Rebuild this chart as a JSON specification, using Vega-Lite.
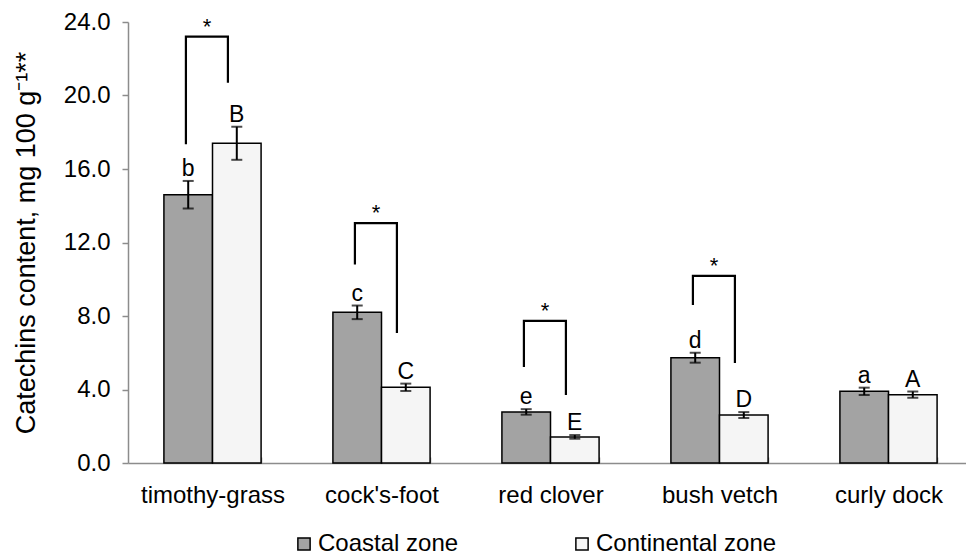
{
  "$schema": "https://vega.github.io/schema/vega-lite/v6.json",
  "autosize": "none",
  "width": 838,
  "height": 441,
  "padding": {"left": 128, "top": 22, "right": 0, "bottom": 95},
  "background": "white",
  "config": {
    "font": "Liberation Sans",
    "view": {"stroke": null}
  },
  "datasets": {
    "bars": [
      {"cat": "timothy-grass", "zone": "Coastal zone", "value": 14.6, "lo": 13.85, "hi": 15.35, "letter": "b"},
      {"cat": "timothy-grass", "zone": "Continental zone", "value": 17.4, "lo": 16.5, "hi": 18.3, "letter": "B"},
      {"cat": "cock's-foot", "zone": "Coastal zone", "value": 8.2, "lo": 7.83, "hi": 8.57, "letter": "c"},
      {"cat": "cock's-foot", "zone": "Continental zone", "value": 4.12, "lo": 3.92, "hi": 4.32, "letter": "C"},
      {"cat": "red clover", "zone": "Coastal zone", "value": 2.78, "lo": 2.63, "hi": 2.93, "letter": "e"},
      {"cat": "red clover", "zone": "Continental zone", "value": 1.42, "lo": 1.32, "hi": 1.52, "letter": "E"},
      {"cat": "bush vetch", "zone": "Coastal zone", "value": 5.73, "lo": 5.46, "hi": 6.0, "letter": "d"},
      {"cat": "bush vetch", "zone": "Continental zone", "value": 2.61, "lo": 2.45, "hi": 2.77, "letter": "D"},
      {"cat": "curly dock", "zone": "Coastal zone", "value": 3.9, "lo": 3.7, "hi": 4.1, "letter": "a"},
      {"cat": "curly dock", "zone": "Continental zone", "value": 3.72, "lo": 3.55, "hi": 3.89, "letter": "A"}
    ],
    "brackets": [
      {"cat": "timothy-grass", "side": "L", "y": 17.35, "ord": 1},
      {"cat": "timothy-grass", "side": "L", "y": 23.2, "ord": 2},
      {"cat": "timothy-grass", "side": "R", "y": 23.2, "ord": 3},
      {"cat": "timothy-grass", "side": "R", "y": 20.7, "ord": 4},
      {"cat": "cock's-foot", "side": "L", "y": 10.8, "ord": 1},
      {"cat": "cock's-foot", "side": "L", "y": 13.05, "ord": 2},
      {"cat": "cock's-foot", "side": "R", "y": 13.05, "ord": 3},
      {"cat": "cock's-foot", "side": "R", "y": 7.07, "ord": 4},
      {"cat": "red clover", "side": "L", "y": 5.22, "ord": 1},
      {"cat": "red clover", "side": "L", "y": 7.73, "ord": 2},
      {"cat": "red clover", "side": "R", "y": 7.73, "ord": 3},
      {"cat": "red clover", "side": "R", "y": 3.7, "ord": 4},
      {"cat": "bush vetch", "side": "L", "y": 8.6, "ord": 1},
      {"cat": "bush vetch", "side": "L", "y": 10.18, "ord": 2},
      {"cat": "bush vetch", "side": "R", "y": 10.18, "ord": 3},
      {"cat": "bush vetch", "side": "R", "y": 5.44, "ord": 4}
    ],
    "stars": [
      {"cat": "timothy-grass", "side": "M", "y": 23.2},
      {"cat": "cock's-foot", "side": "M", "y": 13.05},
      {"cat": "red clover", "side": "M", "y": 7.73},
      {"cat": "bush vetch", "side": "M", "y": 10.18}
    ]
  },
  "resolve": {"scale": {"xOffset": "independent"}},
  "encoding": {
    "x": {
      "field": "cat",
      "type": "nominal",
      "sort": ["timothy-grass", "cock's-foot", "red clover", "bush vetch", "curly dock"],
      "scale": {"range": [0, 845], "paddingInner": 0.425, "paddingOuter": 0.2125},
      "axis": {
        "title": null,
        "labelAngle": 0,
        "labelFontSize": 24,
        "labelColor": "black",
        "labelPadding": 26,
        "domainColor": "#8c8c8c",
        "domainWidth": 1.5,
        "tickColor": "#8c8c8c",
        "tickWidth": 1.5,
        "tickSize": -6,
        "tickBand": "extent"
      }
    }
  },
  "layer": [
    {
      "data": {"name": "bars"},
      "mark": {"type": "bar", "stroke": "black", "strokeWidth": 1.5},
      "encoding": {
        "xOffset": {"field": "zone", "type": "nominal", "sort": ["Coastal zone", "Continental zone"], "scale": {"type": "band", "paddingInner": 0, "paddingOuter": 0}},
        "y": {
          "field": "value",
          "type": "quantitative",
          "scale": {"domain": [0, 24], "nice": false},
          "axis": {
            "title": "Catechins content, mg 100 g⁻¹**",
            "titleFontSize": 27,
            "titleFontWeight": "normal",
            "titleColor": "black",
            "titlePadding": 23,
            "values": [0, 4, 8, 12, 16, 20, 24],
            "format": ".1f",
            "labelFontSize": 24,
            "labelColor": "black",
            "labelPadding": 12,
            "grid": false,
            "domainColor": "#8c8c8c",
            "domainWidth": 1.5,
            "tickColor": "#8c8c8c",
            "tickWidth": 1.5,
            "tickSize": 6
          }
        },
        "fill": {
          "field": "zone",
          "type": "nominal",
          "scale": {"domain": ["Coastal zone", "Continental zone"], "range": ["#a3a3a3", "#f5f5f5"]},
          "legend": {
            "title": null,
            "orient": "none",
            "direction": "horizontal",
            "legendX": 164,
            "legendY": 510,
            "symbolType": "square",
            "symbolSize": 150,
            "symbolStrokeColor": "black",
            "symbolStrokeWidth": 1.5,
            "labelFontSize": 24,
            "labelColor": "black",
            "labelOffset": 2,
            "labelLimit": 0,
            "columnPadding": 111
          }
        }
      }
    },
    {
      "data": {"name": "bars"},
      "mark": {"type": "rule", "color": "black", "strokeWidth": 2},
      "encoding": {
        "xOffset": {"field": "zone", "type": "nominal", "sort": ["Coastal zone", "Continental zone"], "scale": {"type": "band", "paddingInner": 0, "paddingOuter": 0}},
        "y": {"field": "lo", "type": "quantitative"},
        "y2": {"field": "hi"}
      }
    },
    {
      "data": {"name": "bars"},
      "mark": {"type": "tick", "color": "black", "size": 11, "thickness": 2},
      "encoding": {
        "xOffset": {"field": "zone", "type": "nominal", "sort": ["Coastal zone", "Continental zone"], "scale": {"type": "band", "paddingInner": 0, "paddingOuter": 0}},
        "y": {"field": "lo", "type": "quantitative"}
      }
    },
    {
      "data": {"name": "bars"},
      "mark": {"type": "tick", "color": "black", "size": 11, "thickness": 2},
      "encoding": {
        "xOffset": {"field": "zone", "type": "nominal", "sort": ["Coastal zone", "Continental zone"], "scale": {"type": "band", "paddingInner": 0, "paddingOuter": 0}},
        "y": {"field": "hi", "type": "quantitative"}
      }
    },
    {
      "data": {"name": "bars"},
      "mark": {"type": "text", "fontSize": 23, "color": "black", "baseline": "alphabetic", "dy": -5},
      "encoding": {
        "xOffset": {"field": "zone", "type": "nominal", "sort": ["Coastal zone", "Continental zone"], "scale": {"type": "band", "paddingInner": 0, "paddingOuter": 0}},
        "y": {"field": "hi", "type": "quantitative"},
        "text": {"field": "letter"}
      }
    },
    {
      "data": {"name": "brackets"},
      "mark": {"type": "line", "color": "black", "strokeWidth": 2.2},
      "encoding": {
        "xOffset": {"field": "side", "type": "nominal", "scale": {"type": "point", "domain": ["L", "R"], "range": [22, 64], "padding": 0}},
        "y": {"field": "y", "type": "quantitative"},
        "detail": {"field": "cat"},
        "order": {"field": "ord"}
      }
    },
    {
      "data": {"name": "stars"},
      "mark": {"type": "text", "fontSize": 22, "color": "black", "baseline": "alphabetic", "dy": -3},
      "encoding": {
        "xOffset": {"field": "side", "type": "nominal", "scale": {"type": "point", "domain": ["M"], "range": [43, 43], "padding": 0}},
        "y": {"field": "y", "type": "quantitative"},
        "text": {"value": "*"}
      }
    }
  ]
}
